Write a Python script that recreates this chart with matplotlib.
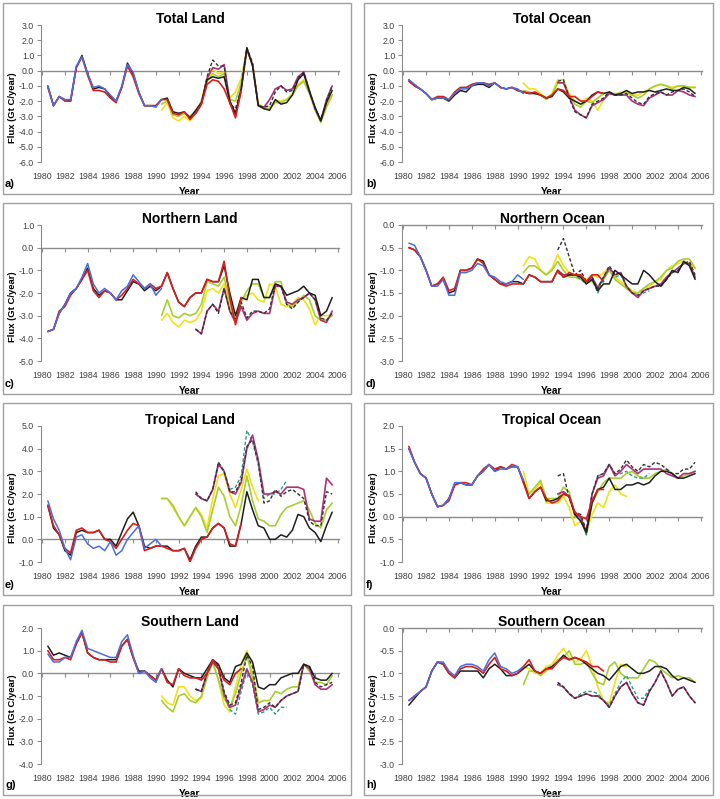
import numpy as np
import matplotlib
matplotlib.use("Agg")
import matplotlib.pyplot as plt
from matplotlib.patches import Rectangle

plt.rcParams["font.family"] = ["Liberation Sans", "DejaVu Sans"]
plt.rcParams["axes.unicode_minus"] = False

# start years of each kind of series (half-year sampling)
START_EARLY = 1980.5   # blue, red, black
START_SAT = 1990.5     # yellow, lime
START_LATE = 1993.5    # black dashed, magenta, teal

# ---- a) Total Land
TL_blue = [-1.0, -2.3, -1.7, -1.9, -1.9, 0.3, 0.9, -0.2, -1.1, -1.0, -1.2, -1.6, -2.0, -1.0, 0.4, -0.1, -1.4, -2.3, -2.3, -2.4, -1.9]
TL_red = [-1.1, -2.3, -1.7, -2.0, -2.0, 0.2, 0.9, -0.3, -1.3, -1.3, -1.4, -1.8, -2.1, -1.1, 0.3, -0.4, -1.5, -2.3, -2.3, -2.3, -1.9,
          -1.9, -2.8, -2.9, -2.7, -3.2, -2.8, -2.2, -0.9, -0.6, -0.7, -1.2, -2.1, -3.1, -1.3]
TL_black = [-1.0, -2.3, -1.7, -1.9, -2.0, 0.2, 1.0, -0.2, -1.2, -1.1, -1.2, -1.7, -2.0, -1.1, 0.5, -0.2, -1.4, -2.3, -2.3, -2.3, -1.9,
            -1.8, -2.7, -2.8, -2.7, -3.1, -2.6, -2.1, -0.6, -0.4, -0.5, -0.4, -2.0, -2.8, -1.2,
            1.5, 0.3, -2.3, -2.5, -2.6, -1.9, -2.2, -2.1, -1.6, -0.6, -0.2, -1.4, -2.4, -3.3, -2.1, -1.3]
TL_yellow = [-2.6, -2.1, -3.1, -3.3, -3.0, -3.3, -2.8, -2.0, -0.6, 0.1, -0.2, -0.1, -1.8, -1.4, -0.5, 1.4, 0.4, -2.2, -2.4, -2.4,
             -2.0, -2.0, -1.9, -1.5, -0.9, -0.6, -1.4, -2.5, -3.3, -2.3, -1.6]
TL_lime = [-2.2, -2.0, -2.9, -3.0, -2.8, -3.0, -2.7, -2.0, -0.7, -0.2, -0.4, -0.2, -1.9, -2.0, -0.8, 1.4, 0.4, -2.2, -2.5, -2.5,
           -2.1, -2.1, -1.9, -1.6, -1.0, -0.7, -1.5, -2.6, -3.4, -2.4, -1.6]
TL_dash = [-2.8, -2.2, -0.4, 0.7, 0.3, 0.3, -2.2, -2.5, -1.2, 1.5, 0.5, -2.3, -2.4, -2.3, -1.4, -1.0, -1.4, -1.3, -0.5, -0.1,
           -1.3, -2.5, -3.2, -2.0, -1.0]
TL_magenta = [-2.8, -2.2, -0.5, 0.2, 0.1, 0.4, -2.0, -2.9, -1.3, 1.4, 0.4, -2.3, -2.4, -1.9, -1.2, -1.0, -1.3, -1.2, -0.4, -0.1,
              -1.3, -2.5, -3.3, -1.9, -1.0]

# ---- b) Total Ocean
TO_blue = [-0.6, -0.9, -1.2, -1.5, -1.9, -1.8, -1.8, -1.9, -1.5, -1.2, -1.2, -1.0, -0.8, -0.8, -1.0, -0.8, -1.1, -1.2, -1.1, -1.2, -1.5]
TO_red = [-0.7, -1.0, -1.2, -1.5, -1.9, -1.7, -1.7, -1.9, -1.4, -1.1, -1.1, -0.9, -0.8, -0.8, -0.9, -0.8, -1.1, -1.2, -1.1, -1.3, -1.4,
          -1.5, -1.4, -1.6, -1.8, -1.6, -1.2, -1.3, -1.7, -1.7, -2.0, -2.0, -1.7, -1.4, -1.5]
TO_black = [-0.6, -1.0, -1.2, -1.5, -1.9, -1.8, -1.8, -2.0, -1.6, -1.3, -1.4, -1.0, -0.9, -0.9, -1.1, -0.8, -1.1, -1.2, -1.1, -1.3, -1.4,
            -1.5, -1.5, -1.6, -1.8, -1.7, -1.2, -1.4, -1.8, -2.0, -2.2, -2.0, -1.6, -1.4, -1.5,
            -1.4, -1.6, -1.5, -1.3, -1.5, -1.4, -1.4, -1.3, -1.4, -1.3, -1.2, -1.3, -1.3, -1.1, -1.2, -1.5]
TO_yellow = [-0.8, -1.2, -1.2, -1.5, -1.8, -1.5, -0.6, -0.6, -1.5, -2.0, -2.2, -1.8, -2.0, -2.6, -1.9, -1.5, -1.6, -1.4, -1.5, -1.6,
             -1.6, -1.4, -1.2, -1.0, -0.9, -1.0, -1.1, -1.0, -1.0, -1.1, -1.1]
TO_lime = [-1.3, -1.4, -1.5, -1.6, -1.9, -1.6, -0.8, -0.8, -1.6, -2.2, -2.4, -2.0, -2.1, -1.8, -1.5, -1.5, -1.5, -1.5, -1.4, -1.6,
           -1.8, -1.6, -1.2, -1.0, -0.9, -1.0, -1.2, -1.0, -1.0, -1.1, -1.1]
TO_dash = [-0.7, -0.6, -1.8, -2.7, -2.9, -3.1, -2.2, -2.0, -1.8, -1.4, -1.6, -1.6, -1.5, -1.8, -2.1, -2.2, -1.7, -1.5, -1.4, -1.6,
           -1.4, -1.3, -1.2, -1.4, -1.7]
TO_magenta = [-0.8, -0.8, -1.7, -2.6, -2.9, -3.1, -2.3, -2.1, -1.9, -1.5, -1.6, -1.6, -1.6, -2.0, -2.2, -2.3, -1.8, -1.6, -1.4, -1.6,
              -1.6, -1.3, -1.4, -1.6, -1.7]

# ---- c) Northern Land
NL_blue = [-3.7, -3.6, -2.9, -2.5, -2.0, -1.8, -1.3, -0.7, -1.6, -2.0, -1.8, -2.0, -2.3, -1.9, -1.7, -1.2, -1.5, -1.8, -1.6, -2.1, -1.8]
NL_red = [-3.7, -3.6, -2.8, -2.6, -2.1, -1.8, -1.4, -1.0, -1.9, -2.2, -1.9, -2.0, -2.3, -2.1, -1.8, -1.4, -1.6, -1.8, -1.6, -1.8, -1.7,
          -1.1, -1.8, -2.4, -2.6, -2.2, -2.0, -2.0, -1.4, -1.5, -1.5, -0.6, -2.2, -3.4, -2.2]
NL_black = [-3.7, -3.6, -2.9, -2.5, -2.0, -1.8, -1.4, -0.9, -1.8, -2.1, -1.9, -2.0, -2.3, -2.3, -1.9, -1.5, -1.6, -1.9, -1.7, -1.9, -1.7,
            -1.1, -1.8, -2.4, -2.6, -2.2, -2.0, -2.0, -1.4, -1.5, -1.5, -0.8, -2.0, -3.0, -2.2,
            -2.3, -1.4, -1.4, -2.2, -2.2, -1.6, -1.7, -2.1, -2.0, -1.9, -1.7, -2.0, -2.1, -3.0, -2.8, -2.2]
NL_yellow = [-3.2, -2.9, -3.3, -3.5, -3.2, -3.3, -3.2, -2.8, -1.9, -1.8, -2.0, -1.6, -2.6, -3.2, -2.3, -2.1, -2.0, -2.3, -2.4, -1.6,
             -1.7, -2.5, -2.6, -2.5, -2.2, -2.3, -2.7, -3.4, -3.0, -3.0, -3.0]
NL_lime = [-3.0, -2.3, -3.0, -3.1, -2.9, -3.0, -2.9, -2.5, -1.5, -1.6, -1.7, -1.3, -2.4, -3.3, -2.4, -1.9, -1.6, -1.6, -2.2, -2.2,
           -1.5, -1.5, -2.5, -2.6, -2.4, -2.1, -2.3, -3.0, -3.2, -3.2, -3.0]
NL_dash = [-3.6, -3.8, -2.8, -2.5, -2.9, -1.8, -2.8, -3.2, -2.4, -3.1, -2.8, -2.8, -2.9, -2.7, -1.6, -1.7, -2.5, -2.7, -2.4, -2.2,
           -2.0, -2.3, -3.1, -3.2, -2.9]
NL_magenta = [-3.6, -3.8, -2.8, -2.5, -2.8, -1.8, -2.8, -3.3, -2.6, -3.2, -2.9, -2.8, -2.9, -2.9, -1.7, -1.7, -2.4, -2.5, -2.3, -2.2,
              -2.0, -2.3, -3.2, -3.3, -2.8]

# ---- d) Northern Ocean
NO_blue = [-0.4, -0.45, -0.7, -1.0, -1.35, -1.35, -1.2, -1.55, -1.55, -1.05, -1.05, -1.0, -0.85, -0.9, -1.1, -1.15, -1.25, -1.3, -1.25, -1.1, -1.2]
NO_red = [-0.5, -0.55, -0.7, -1.0, -1.35, -1.3, -1.15, -1.45, -1.4, -1.0, -1.0, -0.95, -0.75, -0.85, -1.1, -1.2, -1.3, -1.35, -1.3, -1.3, -1.3,
          -1.1, -1.15, -1.25, -1.25, -1.25, -1.0, -1.15, -1.05, -1.1, -1.1, -1.25, -1.1, -1.1, -1.25]
NO_black = [-0.5, -0.55, -0.7, -1.0, -1.35, -1.3, -1.2, -1.5, -1.45, -1.0, -1.0, -0.95, -0.75, -0.8, -1.1, -1.2, -1.3, -1.3, -1.25, -1.25, -1.3,
            -1.1, -1.15, -1.25, -1.25, -1.25, -1.0, -1.15, -1.1, -1.1, -1.15, -1.3, -1.2, -1.45, -1.3,
            -1.3, -1.0, -1.1, -1.2, -1.3, -1.3, -1.0, -1.1, -1.25, -1.35, -1.2, -1.0, -1.05, -0.8, -0.9, -1.2]
NO_yellow = [-0.9, -0.7, -0.75, -1.0, -1.1, -0.95, -0.65, -0.9, -1.05, -1.1, -1.15, -1.2, -1.1, -1.15, -1.05, -0.95, -1.15, -1.25, -1.35, -1.45,
             -1.5, -1.4, -1.35, -1.25, -1.2, -1.0, -0.9, -0.85, -0.8, -0.85, -0.95]
NO_lime = [-1.05, -0.9, -0.9, -1.0, -1.1, -1.0, -0.8, -1.0, -1.15, -1.15, -1.2, -1.25, -1.25, -1.35, -1.2, -1.0, -1.2, -1.3, -1.4, -1.5,
           -1.5, -1.4, -1.3, -1.25, -1.15, -1.0, -0.95, -0.8, -0.75, -0.75, -0.95]
NO_dash = [-0.55, -0.3, -0.7, -1.1, -1.0, -1.25, -1.15, -1.4, -1.15, -0.9, -1.1, -1.05, -1.35, -1.5, -1.55, -1.45, -1.4, -1.35, -1.35, -1.2,
           -1.05, -1.0, -0.85, -0.8, -1.1]
NO_magenta = [-1.0, -1.1, -1.1, -1.1, -1.1, -1.25, -1.15, -1.4, -1.15, -0.95, -1.1, -1.05, -1.35, -1.5, -1.6, -1.45, -1.4, -1.35, -1.3, -1.15,
              -1.05, -0.95, -0.85, -0.85, -1.15]
NO_teal = [-1.05, -1.15, -1.1, -1.1, -1.2, -1.3, -1.2, -1.5, -1.2, -0.95, -1.15, -1.1, -1.35, -1.5, -1.55, -1.5, -1.45]

# ---- e) Tropical Land
TRL_blue = [1.7, 0.9, 0.4, -0.4, -0.9, 0.1, 0.2, -0.2, -0.4, -0.3, -0.5, -0.1, -0.7, -0.5, 0.0, 0.3, 0.6, -0.4, -0.2, 0.0, -0.3]
TRL_red = [1.5, 0.6, 0.2, -0.4, -0.6, 0.4, 0.5, 0.3, 0.3, 0.4, 0.0, -0.1, -0.4, 0.0, 0.4, 0.7, 0.6, -0.5, -0.4, -0.3, -0.3,
           -0.4, -0.5, -0.5, -0.4, -1.0, -0.4, 0.0, 0.1, 0.5, 0.7, 0.5, -0.2, -0.3, 0.7]
TRL_black = [1.5, 0.5, 0.2, -0.5, -0.7, 0.3, 0.4, 0.3, 0.3, 0.4, 0.0, 0.0, -0.3, 0.3, 0.9, 1.2, 0.6, -0.3, -0.4, -0.3, -0.3,
             -0.3, -0.5, -0.5, -0.4, -0.9, -0.3, 0.1, 0.1, 0.5, 0.7, 0.5, -0.3, -0.3, 0.7,
             2.1, 1.3, 0.6, 0.5, 0.0, 0.0, 0.2, 0.1, 0.4, 1.1, 1.0, 0.5, 0.3, -0.1, 0.6, 1.2]
TRL_yellow = [1.8, 1.8, 1.4, 1.0, 0.6, 1.0, 1.4, 1.1, 0.5, 1.8, 2.8, 2.9, 2.0, 1.4, 2.2, 3.1, 2.3, 1.7]
TRL_lime = [1.8, 1.8, 1.5, 1.0, 0.6, 1.0, 1.4, 1.0, 0.3, 1.3, 2.3, 1.9, 1.0, 0.6, 1.5, 2.8, 1.7, 0.9, 0.8, 0.6,
            0.6, 1.1, 1.4, 1.5, 1.6, 1.7, 1.3, 0.7, 0.5, 1.3, 1.6]
TRL_dash = [2.1, 1.8, 1.7, 2.2, 3.4, 3.0, 2.1, 2.1, 2.6, 4.1, 4.4, 3.4, 1.6, 1.7, 2.2, 1.9, 2.1, 2.2, 2.0, 1.8,
            0.8, 0.6, 0.6, 2.1, 2.0]
TRL_magenta = [2.0, 1.8, 1.7, 2.2, 3.3, 3.0, 2.1, 2.0, 2.5, 4.0, 4.6, 3.5, 2.0, 2.0, 2.1, 2.0, 2.3, 2.3, 2.3, 2.2,
               0.9, 0.8, 0.8, 2.7, 2.4]
TRL_teal = [2.0, 1.8, 1.7, 2.2, 3.4, 3.0, 2.2, 2.3, 2.8, 4.8, 4.3, 3.3, 1.8, 2.0, 2.0, 2.2, 2.6]

# ---- f) Tropical Ocean
TRO_blue = [1.5, 1.2, 0.95, 0.85, 0.5, 0.22, 0.25, 0.4, 0.75, 0.75, 0.7, 0.7, 0.9, 1.0, 1.15, 1.0, 1.05, 1.05, 1.1, 1.1, 0.8]
TRO_red = [1.55, 1.2, 0.95, 0.85, 0.5, 0.22, 0.25, 0.35, 0.7, 0.75, 0.75, 0.7, 0.9, 1.05, 1.15, 1.05, 1.1, 1.05, 1.15, 1.1, 0.75,
           0.4, 0.55, 0.65, 0.4, 0.3, 0.35, 0.5, 0.45, 0.1, 0.0, -0.05, 0.35, 0.6, 0.6]
TRO_black = [1.5, 1.2, 0.95, 0.85, 0.5, 0.22, 0.25, 0.4, 0.7, 0.75, 0.7, 0.7, 0.9, 1.0, 1.15, 1.0, 1.1, 1.05, 1.1, 1.1, 0.8,
             0.4, 0.55, 0.65, 0.35, 0.35, 0.4, 0.5, 0.45, 0.05, -0.1, -0.35, 0.3, 0.6, 0.65,
             0.85, 0.6, 0.6, 0.7, 0.7, 0.75, 0.7, 0.75, 0.9, 1.0, 1.0, 0.95, 0.85, 0.85, 0.9, 0.95]
TRO_yellow = [1.0, 0.5, 0.6, 0.75, 0.3, 0.3, 0.3, 0.45, 0.2, -0.2, -0.1, -0.35, 0.05, 0.3, 0.2, 0.55, 0.7, 0.5, 0.45]
TRO_lime = [0.75, 0.5, 0.65, 0.8, 0.4, 0.4, 0.4, 0.65, 0.55, 0.0, -0.05, -0.4, 0.3, 0.55, 0.75, 0.85, 0.85, 0.85, 0.95, 1.0,
            0.9, 0.85, 0.85, 0.95, 1.0, 1.05, 0.95, 0.85, 0.9, 0.95, 1.0]
TRO_dash = [0.9, 0.95, 0.4, 0.1, 0.05, -0.3, 0.5, 0.9, 0.95, 1.15, 0.95, 1.05, 1.25, 1.1, 1.0, 1.15, 1.1, 1.2, 1.15, 1.05,
            0.95, 0.95, 1.05, 1.05, 1.2]
TRO_magenta = [0.5, 0.55, 0.45, 0.05, 0.0, -0.35, 0.5, 0.85, 0.9, 1.15, 0.9, 1.0, 1.15, 1.05, 0.95, 1.05, 1.05, 1.05, 1.05, 0.95,
               0.9, 0.85, 0.95, 0.95, 1.0]
TRO_teal = [0.5, 0.55, 0.45, 0.05, 0.0, -0.4, 0.5, 0.9, 0.95, 1.15, 0.95, 0.95, 1.0, 0.9, 0.85, 0.85, 0.95]

# ---- g) Southern Land
SL_blue = [0.85, 0.5, 0.5, 0.7, 0.7, 1.4, 1.9, 1.1, 1.0, 0.9, 0.8, 0.7, 0.7, 1.4, 1.7, 0.8, 0.0, 0.1, -0.2, -0.4, 0.2]
SL_red = [1.0, 0.6, 0.6, 0.7, 0.6, 1.3, 1.8, 0.9, 0.7, 0.6, 0.6, 0.5, 0.5, 1.2, 1.5, 0.7, 0.0, 0.1, -0.1, -0.3, 0.2,
          -0.4, -0.5, 0.2, -0.1, -0.2, -0.2, -0.3, 0.0, 0.6, 0.2, -0.3, -0.5, 0.0, 0.2]
SL_black = [1.2, 0.8, 0.9, 0.8, 0.7, 1.3, 1.8, 0.9, 0.7, 0.6, 0.6, 0.6, 0.6, 1.2, 1.5, 0.7, 0.1, 0.1, -0.1, -0.3, 0.2,
            -0.3, -0.6, 0.2, 0.0, -0.1, -0.2, -0.2, 0.2, 0.6, 0.4, -0.2, -0.4, 0.3, 0.4,
            0.9, 0.5, -0.6, -0.7, -0.5, -0.5, -0.2, -0.1, 0.0, 0.0, 0.4, 0.3, -0.2, -0.3, -0.3, 0.0]
SL_yellow = [-1.0, -1.3, -1.4, -0.6, -0.6, -1.0, -1.2, -1.1, -0.1, 0.5, -0.3, -1.4, -1.7, -0.6, 0.4, 1.0, 0.0, -1.2]
SL_lime = [-1.2, -1.5, -1.7, -1.0, -0.9, -1.2, -1.3, -1.0, -0.2, 0.5, -0.3, -1.1, -1.5, -0.9, 0.0, 0.8, -0.2, -1.3, -1.2, -1.2,
           -0.8, -0.9, -0.7, -0.6, -0.6, 0.4, 0.1, -0.4, -0.4, -0.5, -0.1]
SL_dash = [-0.7, -0.8, 0.0, 0.6, 0.3, -0.8, -1.4, -1.3, -0.4, 0.8, 0.3, -1.6, -1.5, -1.3, -1.5, -1.2, -1.0, -0.9, -0.8, 0.4,
           0.3, -0.4, -0.6, -0.5, -0.4]
SL_magenta = [-0.7, -0.8, 0.0, 0.5, 0.2, -0.9, -1.5, -1.4, -0.6, 0.2, -0.4, -1.7, -1.6, -1.4, -1.5, -1.2, -1.0, -0.9, -0.8, 0.4,
              0.2, -0.5, -0.7, -0.7, -0.5]
SL_teal = [-0.7, -0.8, 0.0, 0.5, 0.2, -1.0, -1.6, -1.8, -0.8, 0.1, -0.5, -1.8, -1.7, -1.5, -1.8, -1.5, -1.5]

# ---- h) Southern Ocean
SO_blue = [-1.6, -1.5, -1.4, -1.3, -0.95, -0.75, -0.75, -0.95, -1.05, -0.85, -0.8, -0.8, -0.85, -0.95, -0.7, -0.55, -0.85, -0.9, -1.0, -0.95, -0.85]
SO_red = [-1.6, -1.5, -1.4, -1.3, -0.95, -0.75, -0.8, -1.0, -1.1, -0.9, -0.85, -0.85, -0.9, -1.0, -0.8, -0.65, -0.9, -0.95, -1.05, -1.0, -0.85,
          -0.7, -0.95, -1.0, -0.9, -0.9, -0.75, -0.65, -0.7, -0.65, -0.7, -0.75, -0.85, -0.85, -0.95]
SO_black = [-1.7, -1.55, -1.4, -1.3, -0.95, -0.75, -0.8, -1.0, -1.1, -0.95, -0.95, -0.95, -0.95, -1.1, -0.9, -0.8, -0.9, -1.05, -1.05, -1.0, -0.9,
            -0.8, -0.95, -1.0, -0.9, -0.85, -0.75, -0.6, -0.7, -0.65, -0.7, -0.8, -0.9, -1.0, -1.05,
            -1.15, -1.0, -0.85, -0.8, -0.9, -1.0, -1.0, -0.95, -0.85, -0.85, -0.9, -1.05, -1.15, -1.1, -1.15, -1.2]
SO_yellow = [-0.85, -0.9, -1.0, -1.0, -0.85, -0.8, -0.6, -0.45, -0.65, -0.75, -0.7, -0.5, -0.85, -1.3, -1.6, -1.65, -1.2, -0.8, -0.85]
SO_lime = [-1.25, -0.95, -0.95, -1.05, -0.95, -0.85, -0.7, -0.65, -0.5, -0.8, -0.8, -0.75, -1.0, -1.2, -1.25, -0.85, -0.75, -1.0, -1.1, -1.1,
           -1.1, -0.9, -0.7, -0.75, -0.9, -1.0, -1.1, -1.05, -1.1, -1.1, -1.2]
SO_dash = [-1.2, -1.3, -1.45, -1.55, -1.5, -1.45, -1.5, -1.5, -1.6, -1.75, -1.5, -1.3, -1.2, -1.45, -1.65, -1.7, -1.4, -1.2, -0.95, -1.2,
           -1.5, -1.35, -1.3, -1.5, -1.65]
SO_magenta = [-1.25, -1.3, -1.45, -1.55, -1.5, -1.45, -1.5, -1.5, -1.6, -1.75, -1.5, -1.3, -1.2, -1.45, -1.65, -1.7, -1.4, -1.2, -0.95, -1.2,
              -1.5, -1.35, -1.3, -1.5, -1.65]
SO_teal = [-1.2, -1.3, -1.45, -1.55, -1.45, -1.4, -1.4, -1.45, -1.6, -1.7, -1.45, -1.2, -1.05, -1.3, -1.55, -1.55, -1.35]

C_BLUE = "#4a6ee0"
C_RED = "#d91e1e"
C_BLACK = "#1e1e1e"
C_YELLOW = "#f0e218"
C_LIME = "#a6cf32"
C_MAGENTA = "#b0307a"
C_TEAL = "#2f9c7c"
C_DASH = "#333333"
GREY = "#8c8c8c"

panels = [
    ("Total Land", "a)", (-6, 3, 1.0), TL_blue, TL_red, TL_black, TL_yellow, TL_lime, TL_dash, TL_magenta, None),
    ("Total Ocean", "b)", (-6, 3, 1.0), TO_blue, TO_red, TO_black, TO_yellow, TO_lime, TO_dash, TO_magenta, None),
    ("Northern Land", "c)", (-5, 1, 1.0), NL_blue, NL_red, NL_black, NL_yellow, NL_lime, NL_dash, NL_magenta, None),
    ("Northern Ocean", "d)", (-3, 0, 0.5), NO_blue, NO_red, NO_black, NO_yellow, NO_lime, NO_dash, NO_magenta, NO_teal),
    ("Tropical Land", "e)", (-1, 5, 1.0), TRL_blue, TRL_red, TRL_black, TRL_yellow, TRL_lime, TRL_dash, TRL_magenta, TRL_teal),
    ("Tropical Ocean", "f)", (-1, 2, 0.5), TRO_blue, TRO_red, TRO_black, TRO_yellow, TRO_lime, TRO_dash, TRO_magenta, TRO_teal),
    ("Southern Land", "g)", (-4, 2, 1.0), SL_blue, SL_red, SL_black, SL_yellow, SL_lime, SL_dash, SL_magenta, SL_teal),
    ("Southern Ocean", "h)", (-3, 0, 0.5), SO_blue, SO_red, SO_black, SO_yellow, SO_lime, SO_dash, SO_magenta, SO_teal),
]

W, H = 720, 799
fig = plt.figure(figsize=(W / 100, H / 100), dpi=100)

col_axes = [(41, 339), (402, 702)]
col_frame = [(3, 351), (364, 713)]
row_axes = [(25, 162), (225, 361), (426, 562), (628, 764)]
row_frame = [(3, 194), (203, 394), (403, 595), (605, 795)]


def line(ax, vals, start, color, ls="-", lw=1.1):
    yrs = start + 0.5 * np.arange(len(vals))
    ax.plot(yrs, vals, color=color, linestyle=ls, linewidth=lw, solid_capstyle="round")


for i, (title, letter, (ylo, yhi, step), blue, red, black, yellow, lime, dash, magenta, teal) in enumerate(panels):
    r, c = divmod(i, 2)
    fx0, fx1 = col_frame[c]
    fy0, fy1 = row_frame[r]
    fig.patches.append(Rectangle((fx0 / W, 1 - fy1 / H), (fx1 - fx0) / W, (fy1 - fy0) / H,
                                 transform=fig.transFigure, fill=False, edgecolor="#a0a0a0", linewidth=1.0))

    x0, x1 = col_axes[c]
    y0, y1 = row_axes[r]
    ax = fig.add_axes([x0 / W, 1 - y1 / H, (x1 - x0) / W, (y1 - y0) / H])

    line(ax, yellow, START_SAT, C_YELLOW, lw=1.2)
    line(ax, lime, START_SAT, C_LIME, lw=1.2)
    if teal is not None:
        line(ax, teal, START_LATE, C_TEAL, ls=(0, (2.5, 1.5)), lw=1.0)
    line(ax, magenta, START_LATE, C_MAGENTA, lw=1.2)
    line(ax, dash, START_LATE, C_DASH, ls=(0, (2.5, 1.5)), lw=1.0)
    line(ax, black, START_EARLY, C_BLACK, lw=1.1)
    line(ax, red, START_EARLY, C_RED, lw=1.2)
    line(ax, blue, START_EARLY, C_BLUE, lw=1.1)

    ax.set_xlim(1979.9, 2006.1)
    ax.set_ylim(ylo, yhi)
    ax.set_yticks(np.arange(ylo, yhi + step / 2, step))
    ax.yaxis.set_major_formatter(matplotlib.ticker.FormatStrFormatter("%.1f"))
    ax.set_xticks(range(1980, 2007, 2))

    for s in ("top", "right", "bottom"):
        ax.spines[s].set_visible(False)
    ax.spines["left"].set_color(GREY)
    ax.tick_params(axis="y", direction="out", length=3, width=0.8, color=GREY,
                   labelsize=6.3, labelcolor="#404040", pad=2)
    ax.tick_params(axis="x", length=0, labelsize=6.3, labelcolor="#404040", pad=7)

    # horizontal axis drawn at zero, labels stay at the bottom
    frac = (0 - ylo) / (yhi - ylo)
    sec = ax.secondary_xaxis(frac)
    sec.set_alignment("bottom")
    sec.set_xticks(range(1980, 2007, 2))
    sec.tick_params(axis="x", direction="out", length=3, width=0.8, color=GREY, labelbottom=False)
    sec.spines["bottom"].set_color(GREY)
    sec.spines["bottom"].set_linewidth(1.0)

    ax.text(0.5, 1 + 6 / (y1 - y0), title, transform=ax.transAxes, ha="center", va="center",
            fontsize=10, fontweight="bold")
    ax.set_ylabel("Flux (Gt C/year)", fontsize=6.8, fontweight="bold")
    ax.yaxis.set_label_coords(-24 / (x1 - x0), 0.40)
    ax.set_xlabel("Year", fontsize=7.3, fontweight="bold")
    ax.xaxis.set_label_coords(0.5, -25 / (y1 - y0))

    fig.text((fx0 + 2) / W, 1 - (fy1 - 10) / H, letter, ha="left", va="center",
             fontsize=8, fontweight="bold")

fig.savefig("out.png", dpi=100, facecolor="white")
